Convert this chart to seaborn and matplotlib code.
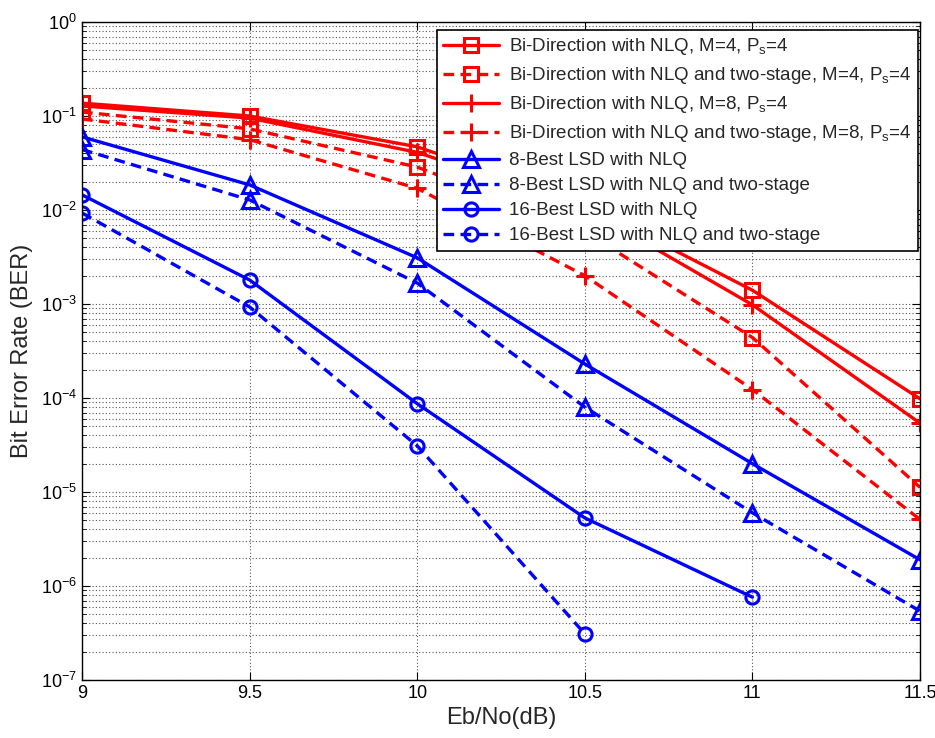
import matplotlib
matplotlib.use("Agg")
import matplotlib.pyplot as plt
import seaborn as sns
import numpy as np
import pandas as pd
from matplotlib.ticker import LogLocator, FixedLocator, NullFormatter

# ---- data ----
snr = [9.0, 9.5, 10.0, 10.5, 11.0, 11.5]
bi_m4 = [0.137, 0.100, 0.047, 0.0115, 1.4e-3, 9.8e-5]
bi_m4_two = [0.110, 0.073, 0.0286, 5.9e-3, 4.4e-4, 1.12e-5]
bi_m8 = [0.128, 0.095, 0.041, 0.0105, 9.8e-4, 5.4e-5]
bi_m8_two = [0.093, 0.056, 0.017, 2.0e-3, 1.23e-4, 5.1e-6]
best8 = [0.060, 0.0185, 3.1e-3, 2.3e-4, 2.0e-5, 1.9e-6]
best8_two = [0.044, 0.0128, 1.67e-3, 8.0e-5, 6.0e-6, 5.4e-7]
snr16 = [9.0, 9.5, 10.0, 10.5, 11.0]
best16 = [0.0145, 1.8e-3, 8.7e-5, 5.3e-6, 7.6e-7]
snr16_two = [9.0, 9.5, 10.0, 10.5]
best16_two = [9.3e-3, 9.3e-4, 3.1e-5, 3.1e-7]

labels = [
    r"Bi-Direction with NLQ, M=4, P$_\mathregular{s}$=4",
    r"Bi-Direction with NLQ and two-stage, M=4, P$_\mathregular{s}$=4",
    r"Bi-Direction with NLQ, M=8, P$_\mathregular{s}$=4",
    r"Bi-Direction with NLQ and two-stage, M=8, P$_\mathregular{s}$=4",
    "8-Best LSD with NLQ",
    "8-Best LSD with NLQ and two-stage",
    "16-Best LSD with NLQ",
    "16-Best LSD with NLQ and two-stage",
]
xticks = [9, 9.5, 10, 10.5, 11, 11.5]

series = [
    (snr, bi_m4, "#ff0000", "-", "s"),
    (snr, bi_m4_two, "#ff0000", "--", "s"),
    (snr, bi_m8, "#ff0000", "-", "+"),
    (snr, bi_m8_two, "#ff0000", "--", "+"),
    (snr, best8, "#0000ff", "-", "^"),
    (snr, best8_two, "#0000ff", "--", "^"),
    (snr16, best16, "#0000ff", "-", "o"),
    (snr16_two, best16_two, "#0000ff", "--", "o"),
]

sns.set_style("ticks")
plt.rcParams["font.family"] = ["Liberation Sans", "DejaVu Sans"]
plt.rcParams["mathtext.fontset"] = "custom"
plt.rcParams["mathtext.rm"] = "Liberation Sans"

fig = plt.figure(figsize=(9.35, 7.38), dpi=100)
ax = fig.add_axes([0.0877, 0.0786, 0.8963, 0.8916])

for (x, y, c, ls, m), lab in zip(series, labels):
    df = pd.DataFrame({"x": x, "y": y})
    ms = 13 if m == "+" else (11 if m == "^" else 9.5)
    sns.lineplot(data=df, x="x", y="y", ax=ax, color=c,
                 marker=m, markersize=ms, markerfacecolor="none",
                 markeredgecolor=c, markeredgewidth=2.2, linewidth=2.4,
                 label=lab)
    ln = ax.lines[-1]
    ln.set_linestyle(ls)
    if ls == "--":
        ln.set_dashes([3.2, 1.9])

ax.set_yscale("log")
ax.set_xlim(9, 11.5)
ax.set_ylim(1e-7, 1)
ax.xaxis.set_major_locator(FixedLocator(xticks))
ax.set_xticklabels([("%g" % v) for v in xticks])
ax.yaxis.set_major_locator(LogLocator(base=10, numticks=20))
ax.yaxis.set_minor_locator(LogLocator(base=10, subs=np.arange(2, 10), numticks=100))
ax.yaxis.set_minor_formatter(NullFormatter())

ax.grid(True, which="major", axis="both", linestyle=(0, (1, 2)), color="#555555", linewidth=0.8)
ax.grid(True, which="minor", axis="y", linestyle=(0, (1, 2)), color="#555555", linewidth=0.8)

ax.tick_params(which="both", direction="in", top=True, right=True, labelsize=13, colors="black")
ax.tick_params(which="major", length=6)
ax.tick_params(which="minor", length=3)
for s in ax.spines.values():
    s.set_color("black")
    s.set_linewidth(1.0)

ax.set_xlabel("Eb/No(dB)", fontsize=17, labelpad=4)
ax.set_ylabel("Bit Error Rate (BER)", fontsize=17, labelpad=6)

leg = ax.legend(loc="upper right", fontsize=13.5, frameon=True, fancybox=False,
                edgecolor="black", framealpha=1, handlelength=3.0,
                handletextpad=0.5, labelspacing=0.42, borderpad=0.35,
                borderaxespad=0.0, bbox_to_anchor=(0.9976, 0.988))
leg.get_frame().set_linewidth(1.2)

fig.savefig("out.png", dpi=100)
